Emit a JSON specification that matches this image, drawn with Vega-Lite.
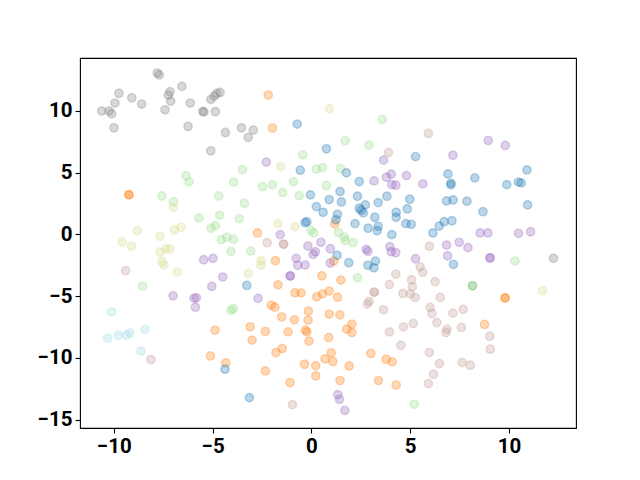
{
  "$schema": "https://vega.github.io/schema/vega-lite/v6.json",
  "width": 496,
  "height": 370,
  "autosize": {"type": "none"},
  "padding": {"left": 80, "top": 58, "right": 64, "bottom": 52},
  "background": "white",
  "config": {
    "view": {"stroke": "black", "strokeWidth": 1.1},
    "axis": {
      "domain": false,
      "grid": false,
      "ticks": true,
      "tickColor": "black",
      "tickSize": 5,
      "tickWidth": 1.1,
      "labelFont": "Roboto",
      "labelFontWeight": "bold",
      "labelFontSize": 20.5,
      "labelColor": "black",
      "labelPadding": 3,
      "title": null
    }
  },
  "data": {
    "values": [
      {"x": -7.8, "y": 13.05, "c": "gray"}, {"x": -7.7, "y": 12.9, "c": "gray"},
      {"x": -9.74, "y": 11.42, "c": "gray"}, {"x": -9.09, "y": 11.05, "c": "gray"},
      {"x": -8.59, "y": 10.54, "c": "gray"}, {"x": -9.94, "y": 10.62, "c": "gray"},
      {"x": -10.61, "y": 9.97, "c": "gray"}, {"x": -10.24, "y": 9.97, "c": "gray"},
      {"x": -10.11, "y": 9.76, "c": "gray"}, {"x": -9.99, "y": 8.62, "c": "gray"},
      {"x": -7.15, "y": 11.54, "c": "gray"}, {"x": -7.24, "y": 11.27, "c": "gray"},
      {"x": -7.12, "y": 10.78, "c": "gray"}, {"x": -7.41, "y": 10.08, "c": "gray"},
      {"x": -6.55, "y": 11.97, "c": "gray"}, {"x": -6.13, "y": 10.62, "c": "gray"},
      {"x": -6.24, "y": 8.73, "c": "gray"}, {"x": -5.5, "y": 9.95, "c": "gray"},
      {"x": -5.44, "y": 9.9, "c": "gray"}, {"x": -4.86, "y": 9.92, "c": "gray"},
      {"x": -5.09, "y": 10.92, "c": "gray"}, {"x": -4.91, "y": 11.19, "c": "gray"},
      {"x": -4.79, "y": 11.4, "c": "gray"}, {"x": -4.62, "y": 11.48, "c": "gray"},
      {"x": -4.35, "y": 8.24, "c": "gray"}, {"x": -5.09, "y": 6.76, "c": "gray"},
      {"x": -3.54, "y": 8.62, "c": "gray"}, {"x": -3.2, "y": 7.85, "c": "gray"},
      {"x": -2.94, "y": 8.43, "c": "gray"}, {"x": 12.25, "y": -1.95, "c": "gray"},

      {"x": -2.18, "y": 11.27, "c": "orange"}, {"x": -1.97, "y": 8.6, "c": "orange"},
      {"x": -9.25, "y": 3.21, "c": "orange"}, {"x": -9.22, "y": 3.19, "c": "orange"},
      {"x": 1.18, "y": 0.84, "c": "orange"}, {"x": -2.73, "y": 0.11, "c": "orange"},
      {"x": 1.13, "y": -2.17, "c": "orange"}, {"x": -1.82, "y": -2.14, "c": "orange"},
      {"x": 0.53, "y": -3.36, "c": "orange"}, {"x": 1.49, "y": -3.71, "c": "orange"},
      {"x": -1.69, "y": -4.09, "c": "orange"}, {"x": -0.83, "y": -4.74, "c": "orange"},
      {"x": -0.52, "y": -4.74, "c": "orange"}, {"x": 0.27, "y": -5.06, "c": "orange"},
      {"x": 0.56, "y": -4.82, "c": "orange"}, {"x": 0.9, "y": -4.6, "c": "orange"},
      {"x": 1.32, "y": -5.09, "c": "orange"}, {"x": -2.03, "y": -5.73, "c": "orange"},
      {"x": -1.85, "y": -5.9, "c": "orange"}, {"x": -0.15, "y": -6.22, "c": "orange"},
      {"x": -1.5, "y": -6.68, "c": "orange"}, {"x": -0.86, "y": -6.93, "c": "orange"},
      {"x": -0.17, "y": -6.95, "c": "orange"}, {"x": 0.9, "y": -6.46, "c": "orange"},
      {"x": 1.44, "y": -6.52, "c": "orange"}, {"x": -3.1, "y": -7.49, "c": "orange"},
      {"x": -2.33, "y": -7.87, "c": "orange"}, {"x": -1.18, "y": -7.9, "c": "orange"},
      {"x": -0.3, "y": -7.76, "c": "orange"}, {"x": -0.23, "y": -7.9, "c": "orange"},
      {"x": -0.12, "y": -8.65, "c": "orange"}, {"x": 0.88, "y": -8.35, "c": "orange"},
      {"x": 1.79, "y": -7.68, "c": "orange"}, {"x": 2.05, "y": -7.27, "c": "orange"},
      {"x": 2.05, "y": -7.95, "c": "orange"}, {"x": -3.0, "y": -8.57, "c": "orange"},
      {"x": -1.79, "y": -9.57, "c": "orange"}, {"x": -1.48, "y": -9.25, "c": "orange"},
      {"x": -0.35, "y": -10.52, "c": "orange"}, {"x": 0.22, "y": -10.63, "c": "orange"},
      {"x": 0.22, "y": -11.47, "c": "orange"}, {"x": 0.69, "y": -10.09, "c": "orange"},
      {"x": 1.0, "y": -9.6, "c": "orange"}, {"x": 1.08, "y": -10.3, "c": "orange"},
      {"x": 1.91, "y": -10.66, "c": "orange"}, {"x": -2.33, "y": -11.06, "c": "orange"},
      {"x": -1.08, "y": -12.0, "c": "orange"}, {"x": 1.45, "y": -11.84, "c": "orange"},
      {"x": 3.01, "y": -9.65, "c": "orange"}, {"x": 3.78, "y": -10.11, "c": "orange"},
      {"x": 4.09, "y": -10.33, "c": "orange"}, {"x": 3.39, "y": -11.84, "c": "orange"},
      {"x": 4.29, "y": -12.2, "c": "orange"}, {"x": -4.88, "y": -7.76, "c": "orange"},
      {"x": -5.11, "y": -9.85, "c": "orange"}, {"x": -4.33, "y": -10.41, "c": "orange"},
      {"x": 9.81, "y": -5.14, "c": "orange"}, {"x": 9.79, "y": -5.16, "c": "orange"},
      {"x": 8.76, "y": -7.3, "c": "orange"},

      {"x": -6.34, "y": 4.73, "c": "lightgreen"}, {"x": -6.19, "y": 4.24, "c": "lightgreen"},
      {"x": -3.49, "y": 5.24, "c": "lightgreen"}, {"x": -3.93, "y": 4.22, "c": "lightgreen"},
      {"x": 3.59, "y": 9.3, "c": "lightgreen"}, {"x": 1.71, "y": 7.57, "c": "lightgreen"},
      {"x": 2.91, "y": 7.22, "c": "lightgreen"}, {"x": -0.44, "y": 6.43, "c": "lightgreen"},
      {"x": 0.25, "y": 5.27, "c": "lightgreen"}, {"x": 0.56, "y": 5.4, "c": "lightgreen"},
      {"x": 1.47, "y": 5.32, "c": "lightgreen"}, {"x": -2.48, "y": 3.85, "c": "lightgreen"},
      {"x": -1.97, "y": 4.0, "c": "lightgreen"}, {"x": -0.91, "y": 4.24, "c": "lightgreen"},
      {"x": 0.76, "y": 3.95, "c": "lightgreen"}, {"x": -1.45, "y": 3.37, "c": "lightgreen"},
      {"x": -0.62, "y": 3.13, "c": "lightgreen"}, {"x": -7.56, "y": 3.1, "c": "lightgreen"},
      {"x": -6.99, "y": 2.64, "c": "lightgreen"}, {"x": -4.69, "y": 3.1, "c": "lightgreen"},
      {"x": -3.39, "y": 2.51, "c": "lightgreen"}, {"x": -5.69, "y": 1.32, "c": "lightgreen"},
      {"x": -4.64, "y": 1.54, "c": "lightgreen"}, {"x": -4.86, "y": 0.7, "c": "lightgreen"},
      {"x": -5.08, "y": 0.49, "c": "lightgreen"}, {"x": -3.65, "y": 1.27, "c": "lightgreen"},
      {"x": -4.56, "y": -0.44, "c": "lightgreen"}, {"x": -4.28, "y": -0.24, "c": "lightgreen"},
      {"x": -3.95, "y": -0.41, "c": "lightgreen"}, {"x": -4.07, "y": -1.38, "c": "lightgreen"},
      {"x": -3.07, "y": -1.35, "c": "lightgreen"}, {"x": -8.54, "y": -4.19, "c": "lightgreen"},
      {"x": -4.07, "y": -6.16, "c": "lightgreen"}, {"x": -3.95, "y": -6.03, "c": "lightgreen"},
      {"x": -0.02, "y": 0.32, "c": "lightgreen"}, {"x": 0.12, "y": 0.11, "c": "lightgreen"},
      {"x": 1.37, "y": 0.16, "c": "lightgreen"}, {"x": 1.66, "y": -0.22, "c": "lightgreen"},
      {"x": 1.71, "y": -0.52, "c": "lightgreen"}, {"x": 2.11, "y": -0.68, "c": "lightgreen"},
      {"x": 2.33, "y": -3.52, "c": "lightgreen"}, {"x": 10.3, "y": -2.17, "c": "lightgreen"},
      {"x": 5.2, "y": -13.76, "c": "lightgreen"},

      {"x": 8.15, "y": -4.17, "c": "green"},

      {"x": 0.91, "y": 10.16, "c": "olive"}, {"x": -1.55, "y": 5.48, "c": "olive"},
      {"x": -6.99, "y": 2.16, "c": "olive"}, {"x": -8.81, "y": 0.29, "c": "olive"},
      {"x": -9.58, "y": -0.62, "c": "olive"}, {"x": -9.11, "y": -0.97, "c": "olive"},
      {"x": -7.66, "y": -0.16, "c": "olive"}, {"x": -6.94, "y": 0.37, "c": "olive"},
      {"x": -6.6, "y": 0.57, "c": "olive"}, {"x": -7.66, "y": -1.46, "c": "olive"},
      {"x": -7.36, "y": -1.19, "c": "olive"}, {"x": -7.15, "y": -1.19, "c": "olive"},
      {"x": -7.57, "y": -2.22, "c": "olive"}, {"x": -7.46, "y": -2.47, "c": "olive"},
      {"x": -6.78, "y": -3.06, "c": "olive"}, {"x": -3.19, "y": -3.16, "c": "olive"},
      {"x": -1.69, "y": 0.86, "c": "olive"}, {"x": -0.84, "y": 0.62, "c": "olive"},
      {"x": -2.55, "y": -2.14, "c": "olive"}, {"x": -2.55, "y": -2.49, "c": "olive"},
      {"x": 11.7, "y": -4.57, "c": "olive"},

      {"x": -0.72, "y": 8.92, "c": "blue"}, {"x": 0.76, "y": 6.92, "c": "blue"},
      {"x": 5.27, "y": 6.29, "c": "blue"}, {"x": -0.56, "y": 5.19, "c": "blue"},
      {"x": 1.77, "y": 4.97, "c": "blue"}, {"x": 2.42, "y": 4.27, "c": "blue"},
      {"x": 10.91, "y": 5.21, "c": "blue"}, {"x": 6.91, "y": 4.89, "c": "blue"},
      {"x": 8.27, "y": 4.57, "c": "blue"}, {"x": 7.06, "y": 4.14, "c": "blue"},
      {"x": 7.06, "y": 4.0, "c": "blue"}, {"x": 10.48, "y": 4.22, "c": "blue"},
      {"x": 10.62, "y": 4.16, "c": "blue"}, {"x": 9.89, "y": 4.02, "c": "blue"},
      {"x": -0.05, "y": 3.19, "c": "blue"}, {"x": 1.45, "y": 3.46, "c": "blue"},
      {"x": 0.9, "y": 2.81, "c": "blue"}, {"x": 1.52, "y": 2.62, "c": "blue"},
      {"x": 0.25, "y": 2.24, "c": "blue"}, {"x": 0.59, "y": 1.78, "c": "blue"},
      {"x": 2.33, "y": 3.08, "c": "blue"}, {"x": 2.73, "y": 2.38, "c": "blue"},
      {"x": 2.42, "y": 2.11, "c": "blue"}, {"x": 2.52, "y": 1.95, "c": "blue"},
      {"x": 2.63, "y": 1.73, "c": "blue"}, {"x": 3.38, "y": 2.56, "c": "blue"},
      {"x": 3.82, "y": 3.08, "c": "blue"}, {"x": 4.98, "y": 2.84, "c": "blue"},
      {"x": 3.21, "y": 1.38, "c": "blue"}, {"x": 4.29, "y": 1.78, "c": "blue"},
      {"x": 4.29, "y": 1.38, "c": "blue"}, {"x": 4.85, "y": 2.05, "c": "blue"},
      {"x": 4.78, "y": 0.86, "c": "blue"}, {"x": 5.05, "y": 0.81, "c": "blue"},
      {"x": 2.21, "y": 0.86, "c": "blue"}, {"x": 1.32, "y": 1.62, "c": "blue"},
      {"x": 1.24, "y": 1.18, "c": "blue"}, {"x": -0.23, "y": 1.02, "c": "blue"},
      {"x": -0.32, "y": 0.94, "c": "blue"}, {"x": 2.87, "y": 0.49, "c": "blue"},
      {"x": 3.38, "y": 0.65, "c": "blue"}, {"x": 3.33, "y": 0.29, "c": "blue"},
      {"x": 4.07, "y": -0.03, "c": "blue"}, {"x": 1.3, "y": -1.7, "c": "blue"},
      {"x": 1.89, "y": -2.3, "c": "blue"}, {"x": 2.86, "y": -2.51, "c": "blue"},
      {"x": 3.24, "y": -2.17, "c": "blue"}, {"x": 3.16, "y": -2.71, "c": "blue"},
      {"x": 6.84, "y": 2.7, "c": "blue"}, {"x": 7.17, "y": 2.78, "c": "blue"},
      {"x": 7.87, "y": 2.68, "c": "blue"}, {"x": 8.68, "y": 1.83, "c": "blue"},
      {"x": 10.94, "y": 2.38, "c": "blue"}, {"x": 6.15, "y": 0.11, "c": "blue"},
      {"x": 6.47, "y": 0.67, "c": "blue"}, {"x": 6.72, "y": 1.02, "c": "blue"},
      {"x": 7.11, "y": 1.1, "c": "blue"}, {"x": 7.19, "y": -2.43, "c": "blue"},
      {"x": -3.27, "y": -4.14, "c": "blue"}, {"x": -4.37, "y": -10.92, "c": "blue"},
      {"x": -3.14, "y": -13.22, "c": "blue"},

      {"x": 3.65, "y": 6.0, "c": "purple"}, {"x": -2.28, "y": 5.84, "c": "purple"},
      {"x": 3.17, "y": 4.32, "c": "purple"}, {"x": 3.8, "y": 4.62, "c": "purple"},
      {"x": 4.04, "y": 4.87, "c": "purple"}, {"x": 4.81, "y": 4.75, "c": "purple"},
      {"x": 4.07, "y": 4.02, "c": "purple"}, {"x": 4.27, "y": 3.97, "c": "purple"},
      {"x": 8.95, "y": 7.59, "c": "purple"}, {"x": 9.81, "y": 7.19, "c": "purple"},
      {"x": 7.16, "y": 6.4, "c": "purple"}, {"x": 5.64, "y": 4.08, "c": "purple"},
      {"x": -5.45, "y": -2.06, "c": "purple"}, {"x": -4.98, "y": -1.95, "c": "purple"},
      {"x": -4.49, "y": -3.46, "c": "purple"}, {"x": -5.04, "y": -4.22, "c": "purple"},
      {"x": -7.0, "y": -4.98, "c": "purple"}, {"x": -5.94, "y": -5.17, "c": "purple"},
      {"x": -5.82, "y": -5.14, "c": "purple"}, {"x": -5.87, "y": -5.9, "c": "purple"},
      {"x": -1.58, "y": -0.03, "c": "purple"}, {"x": -0.18, "y": -0.95, "c": "purple"},
      {"x": 0.48, "y": -0.65, "c": "purple"}, {"x": 0.96, "y": -1.17, "c": "purple"},
      {"x": 0.2, "y": -1.41, "c": "purple"}, {"x": 0.09, "y": -1.62, "c": "purple"},
      {"x": 2.77, "y": -1.22, "c": "purple"}, {"x": 2.86, "y": -1.38, "c": "purple"},
      {"x": 3.97, "y": -1.0, "c": "purple"}, {"x": 4.04, "y": -1.41, "c": "purple"},
      {"x": 4.27, "y": -1.49, "c": "purple"}, {"x": 5.27, "y": -1.98, "c": "purple"},
      {"x": 0.95, "y": -2.33, "c": "purple"}, {"x": -0.77, "y": -1.95, "c": "purple"},
      {"x": -0.69, "y": -2.51, "c": "purple"}, {"x": -0.32, "y": -2.49, "c": "purple"},
      {"x": -1.08, "y": -3.36, "c": "purple"}, {"x": -1.06, "y": -3.38, "c": "purple"},
      {"x": -2.7, "y": -5.19, "c": "purple"}, {"x": 8.54, "y": 0.11, "c": "purple"},
      {"x": 8.93, "y": 0.11, "c": "purple"}, {"x": 10.48, "y": 0.08, "c": "purple"},
      {"x": 11.09, "y": 0.21, "c": "purple"}, {"x": 6.84, "y": -0.87, "c": "purple"},
      {"x": 7.48, "y": -0.65, "c": "purple"}, {"x": 7.92, "y": -1.08, "c": "purple"},
      {"x": 6.89, "y": -1.74, "c": "purple"}, {"x": 9.03, "y": -1.9, "c": "purple"},
      {"x": 9.05, "y": -1.92, "c": "purple"}, {"x": 1.34, "y": -12.98, "c": "purple"},
      {"x": 1.42, "y": -13.36, "c": "purple"}, {"x": 1.69, "y": -14.25, "c": "purple"},

      {"x": 3.9, "y": 6.62, "c": "brown"}, {"x": 5.92, "y": 8.16, "c": "brown"},
      {"x": -9.4, "y": -2.95, "c": "brown"}, {"x": -2.24, "y": -0.68, "c": "brown"},
      {"x": -1.42, "y": -0.79, "c": "brown"}, {"x": -1.4, "y": -0.81, "c": "brown"},
      {"x": 4.27, "y": -3.22, "c": "brown"}, {"x": 5.07, "y": -3.68, "c": "brown"},
      {"x": 5.11, "y": -4.25, "c": "brown"}, {"x": 5.0, "y": -4.82, "c": "brown"},
      {"x": 4.63, "y": -4.79, "c": "brown"}, {"x": 5.25, "y": -5.11, "c": "brown"},
      {"x": 3.95, "y": -4.06, "c": "brown"}, {"x": 3.17, "y": -4.68, "c": "brown"},
      {"x": 3.19, "y": -4.7, "c": "brown"}, {"x": 2.92, "y": -5.43, "c": "brown"},
      {"x": 2.84, "y": -5.65, "c": "brown"}, {"x": 3.65, "y": -6.11, "c": "brown"},
      {"x": 5.97, "y": -0.97, "c": "brown"}, {"x": 5.5, "y": -2.63, "c": "brown"},
      {"x": 5.64, "y": -3.08, "c": "brown"}, {"x": 6.26, "y": -3.84, "c": "brown"},
      {"x": 6.52, "y": -5.11, "c": "brown"}, {"x": 6.01, "y": -5.92, "c": "brown"},
      {"x": 6.1, "y": -6.41, "c": "brown"}, {"x": 7.16, "y": -6.38, "c": "brown"},
      {"x": 7.68, "y": -6.08, "c": "brown"}, {"x": 4.66, "y": -7.49, "c": "brown"},
      {"x": 5.16, "y": -7.22, "c": "brown"}, {"x": 3.95, "y": -7.9, "c": "brown"},
      {"x": 4.53, "y": -8.98, "c": "brown"}, {"x": -0.96, "y": -13.79, "c": "brown"},
      {"x": -8.12, "y": -10.14, "c": "brown"}, {"x": 6.35, "y": -7.14, "c": "brown"},
      {"x": 6.86, "y": -7.68, "c": "brown"}, {"x": 6.81, "y": -7.95, "c": "brown"},
      {"x": 7.59, "y": -7.54, "c": "brown"}, {"x": 5.97, "y": -9.57, "c": "brown"},
      {"x": 6.48, "y": -10.46, "c": "brown"}, {"x": 6.18, "y": -11.33, "c": "brown"},
      {"x": 5.92, "y": -12.08, "c": "brown"}, {"x": 7.63, "y": -10.38, "c": "brown"},
      {"x": 8.04, "y": -10.6, "c": "brown"}, {"x": 9.03, "y": -8.25, "c": "brown"},
      {"x": 9.05, "y": -9.3, "c": "brown"},

      {"x": -10.11, "y": -6.28, "c": "cyan"}, {"x": -10.31, "y": -8.41, "c": "cyan"},
      {"x": -9.77, "y": -8.17, "c": "cyan"}, {"x": -9.35, "y": -8.17, "c": "cyan"},
      {"x": -9.18, "y": -7.98, "c": "cyan"}, {"x": -8.42, "y": -7.7, "c": "cyan"},
      {"x": -8.62, "y": -9.46, "c": "cyan"}
    ]
  },
  "mark": {
    "type": "point",
    "shape": "circle",
    "filled": true,
    "size": 70,
    "fillOpacity": 0.3,
    "strokeOpacity": 0.3,
    "strokeWidth": 1.4
  },
  "encoding": {
    "x": {
      "field": "x",
      "type": "quantitative",
      "scale": {"domain": [-11.71, 13.39], "nice": false, "zero": false},
      "axis": {"values": [-10, -5, 0, 5, 10], "format": "d"}
    },
    "y": {
      "field": "y",
      "type": "quantitative",
      "scale": {"domain": [-15.68, 14.27], "nice": false, "zero": false},
      "axis": {"values": [-15, -10, -5, 0, 5, 10], "format": "d"}
    },
    "color": {
      "field": "c",
      "type": "nominal",
      "legend": null,
      "scale": {
        "domain": ["blue", "orange", "green", "lightgreen", "purple", "brown", "gray", "olive", "cyan"],
        "range": ["#1f77b4", "#ff7f0e", "#2ca02c", "#98df8a", "#9467bd", "#c49c94", "#7f7f7f", "#dbdb8d", "#9edae5"]
      }
    },
    "stroke": {
      "field": "c",
      "type": "nominal",
      "legend": null,
      "scale": {
        "domain": ["blue", "orange", "green", "lightgreen", "purple", "brown", "gray", "olive", "cyan"],
        "range": ["#1f77b4", "#ff7f0e", "#2ca02c", "#98df8a", "#9467bd", "#c49c94", "#7f7f7f", "#dbdb8d", "#9edae5"]
      }
    }
  }
}
